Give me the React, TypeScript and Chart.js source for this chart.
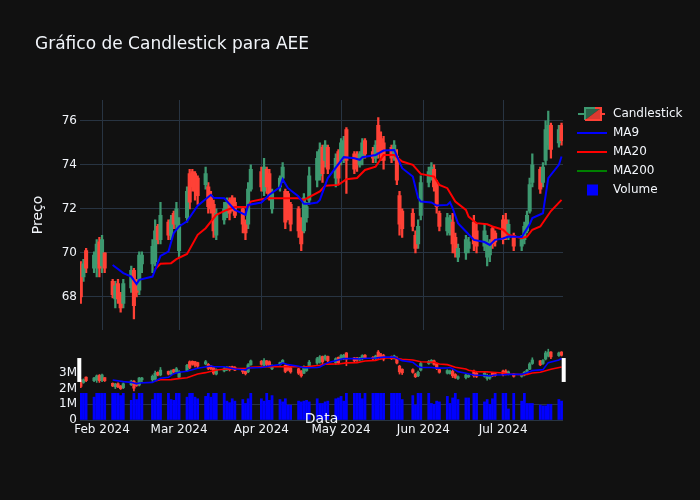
import { useEffect, useRef } from "react";
import { Chart, registerables } from "chart.js";

Chart.register(...registerables);

const TITLE = "Gráfico de Candlestick para AEE";
const seriesNames = ["Candlestick", "MA9", "MA20", "MA200", "Volume"];

// trading days
const dates = [
  "2024-01-24", "2024-01-25", "2024-01-26", "2024-01-29", "2024-01-30", "2024-01-31",
  "2024-02-01", "2024-02-02", "2024-02-05", "2024-02-06", "2024-02-07", "2024-02-08", "2024-02-09",
  "2024-02-12", "2024-02-13", "2024-02-14", "2024-02-15", "2024-02-16", "2024-02-20", "2024-02-21",
  "2024-02-22", "2024-02-23", "2024-02-26", "2024-02-27", "2024-02-28", "2024-02-29",
  "2024-03-01", "2024-03-04", "2024-03-05", "2024-03-06", "2024-03-07", "2024-03-08", "2024-03-11",
  "2024-03-12", "2024-03-13", "2024-03-14", "2024-03-15", "2024-03-18", "2024-03-19", "2024-03-20",
  "2024-03-21", "2024-03-22", "2024-03-25", "2024-03-26", "2024-03-27", "2024-03-28",
  "2024-04-01", "2024-04-02", "2024-04-03", "2024-04-04", "2024-04-05", "2024-04-08", "2024-04-09",
  "2024-04-10", "2024-04-11", "2024-04-12", "2024-04-15", "2024-04-16", "2024-04-17", "2024-04-18",
  "2024-04-19", "2024-04-22", "2024-04-23", "2024-04-24", "2024-04-25", "2024-04-26", "2024-04-29",
  "2024-04-30",
  "2024-05-01", "2024-05-02", "2024-05-03", "2024-05-06", "2024-05-07", "2024-05-08", "2024-05-09",
  "2024-05-10", "2024-05-13", "2024-05-14", "2024-05-15", "2024-05-16", "2024-05-17", "2024-05-20",
  "2024-05-21", "2024-05-22", "2024-05-23", "2024-05-24", "2024-05-28", "2024-05-29", "2024-05-30",
  "2024-05-31",
  "2024-06-03", "2024-06-04", "2024-06-05", "2024-06-06", "2024-06-07", "2024-06-10", "2024-06-11",
  "2024-06-12", "2024-06-13", "2024-06-14", "2024-06-17", "2024-06-18", "2024-06-20", "2024-06-21",
  "2024-06-24", "2024-06-25", "2024-06-26", "2024-06-27", "2024-06-28",
  "2024-07-01", "2024-07-02", "2024-07-03", "2024-07-05", "2024-07-08", "2024-07-09", "2024-07-10",
  "2024-07-11", "2024-07-12", "2024-07-15", "2024-07-16", "2024-07-17", "2024-07-18", "2024-07-19",
  "2024-07-22", "2024-07-23",
];

const opens = [
  69.3, 68.9, 70.1, 69.3, 69.5, 70.5,
  69.4, 70.0, 68.7, 67.9, 68.6, 68.1, 67.7,
  68.4, 69.2, 68.7, 68.3, 69.5, 69.5, 69.6,
  71.2, 70.6, 71.4, 70.8, 71.8, 71.3,
  70.1, 71.6, 73.6, 73.7, 73.6, 73.4, 73.1,
  73.0, 72.6, 72.2, 70.8, 71.5, 71.8, 72.4,
  72.5, 72.3, 72.0, 71.4, 71.3, 72.9,
  73.7, 72.8, 73.8, 73.6, 72.0, 73.0, 73.4,
  72.8, 72.7, 72.2, 72.0, 71.5, 71.0, 71.6,
  72.4, 73.3, 73.5, 74.8, 74.2, 74.8, 73.4,
  74.6,
  74.2, 74.4, 75.6, 74.5, 74.3, 74.0, 74.3,
  75.1, 74.6, 74.3, 75.8, 75.2, 75.0, 74.8,
  74.4, 74.4, 72.6, 71.9, 71.8, 70.8, 70.4,
  71.7,
  73.2, 73.5, 73.8, 73.1, 71.8, 71.0, 70.9,
  71.4, 70.7, 69.8, 70.0, 70.2, 71.4, 71.0,
  70.3, 69.8, 69.9, 71.1, 70.9,
  71.5, 71.5, 70.7, 70.8, 70.3, 70.6, 71.0,
  71.9, 73.2, 73.8, 73.2, 74.2, 74.9, 75.8,
  75.0, 75.8,
];

const highs = [
  69.6, 69.7, 70.2, 70.05, 70.6, 70.7,
  70.8, 70.0, 68.8, 68.7, 68.8, 68.2, 68.8,
  69.4, 69.3, 68.8, 70.05, 70.05, 70.6, 71.5,
  71.3, 72.3, 71.5, 71.7, 71.9, 72.3,
  71.6, 73.0, 73.8, 73.8, 73.7, 73.5, 73.9,
  73.2, 72.8, 72.4, 72.0, 72.3, 72.5, 72.5,
  72.6, 72.5, 72.1, 71.5, 73.2, 74.0,
  73.9, 74.3, 73.9, 73.8, 72.9, 73.5, 74.1,
  72.9, 72.8, 72.3, 72.1, 71.6, 72.7, 72.3,
  73.9, 74.6, 75.0, 74.9, 75.1, 74.9, 74.5,
  74.7,
  75.2, 75.3, 75.7, 74.6, 74.6, 74.6, 75.2,
  75.2, 74.8, 75.1, 76.15, 75.5, 75.3, 74.9,
  75.1, 74.7, 72.8, 72.0, 72.0, 71.0, 71.5,
  73.5,
  73.9, 74.1, 74.0, 73.3, 71.9, 71.8, 71.7,
  71.8, 70.9, 70.4, 70.8, 70.7, 71.7, 71.3,
  71.3, 70.8, 70.6, 71.2, 71.0,
  71.7, 71.8, 71.5, 70.9, 70.8, 71.4, 71.9,
  73.4, 74.5, 73.9, 74.1, 76.0, 76.45, 75.9,
  75.8, 75.9,
];

const lows = [
  67.7, 68.7, 69.1, 69.1, 68.9, 68.9,
  69.1, 69.1, 67.95, 67.5, 67.7, 67.3, 67.5,
  68.2, 67.0, 68.0, 68.1, 69.1, 69.1, 69.4,
  70.4, 70.4, 70.6, 70.6, 71.1, 71.1,
  69.8, 71.4, 72.0, 72.8, 72.4, 72.2, 72.9,
  71.8, 71.8, 70.7, 70.6, 71.3, 71.6, 71.5,
  71.9, 71.6, 70.9, 70.6, 71.1, 72.8,
  72.8, 72.6, 72.7, 72.4, 71.8, 72.8, 73.2,
  71.1, 71.5, 71.0, 70.7, 70.1, 70.9, 71.4,
  72.2, 73.0, 73.3, 73.2, 73.9, 73.6, 73.0,
  73.1,
  74.0, 74.1, 72.7, 73.6, 73.7, 73.9, 74.0,
  74.3, 74.1, 74.1, 74.3, 74.2, 73.8, 74.1,
  74.2, 73.1, 70.8, 70.7, 71.0, 70.0, 70.2,
  71.5,
  73.0, 73.3, 72.8, 71.8, 71.0, 70.8, 70.8,
  70.0, 69.8, 69.6, 69.7, 70.0, 70.1, 70.0,
  70.1, 69.4, 69.6, 70.2, 70.3,
  70.4, 70.6, 70.6, 70.1, 70.1, 70.4, 70.9,
  71.8, 73.0, 72.7, 73.0, 74.0, 74.7, 74.3,
  74.8, 74.9,
];

const closes = [
  68.0, 69.5, 69.3, 69.9, 70.4, 69.3,
  70.6, 69.3, 68.1, 68.5, 67.9, 67.5, 68.6,
  69.2, 67.6, 68.2, 69.9, 69.9, 70.3, 71.0,
  70.6, 71.7, 70.8, 71.5, 71.3, 72.0,
  71.3, 72.8, 72.3, 73.0, 72.8, 72.6, 73.6,
  72.1, 72.0, 71.0, 71.8, 72.0, 72.3, 71.8,
  72.0, 71.7, 71.3, 70.9, 72.9, 73.8,
  73.0, 73.9, 73.0, 72.6, 72.7, 73.4, 73.9,
  71.4, 71.8, 71.3, 71.0, 70.4, 72.5, 72.1,
  73.5, 74.3, 74.7, 73.6, 74.9, 73.8, 74.3,
  73.4,
  75.0, 75.1, 74.2, 73.8, 74.0, 74.5, 75.0,
  74.5, 74.3, 74.9, 74.6, 74.5, 74.2, 74.3,
  74.9, 73.3, 71.3, 71.1, 71.2, 70.2, 71.2,
  73.2,
  73.7, 73.9, 73.0, 72.1, 71.2, 71.6, 71.5,
  70.4, 70.0, 70.2, 70.6, 70.5, 70.4, 70.3,
  71.0, 70.5, 70.4, 70.4, 70.5,
  70.6, 70.9, 71.3, 70.3, 70.6, 71.2, 71.7,
  73.1, 74.0, 72.9, 73.9, 75.6, 75.8, 74.7,
  75.6, 75.1,
];

// volume, millions of shares
const volumes = [
  2.2, 1.9, 2.4, 1.45, 2.0, 2.6,
  1.9, 2.1, 2.3, 1.8, 2.0, 1.55, 2.2,
  1.25, 2.5, 1.3, 2.1, 3.1, 1.3, 1.9,
  2.2, 1.8, 2.0, 1.3, 1.25, 2.4,
  1.9, 1.45, 2.0, 2.2, 1.45, 1.35, 1.5,
  1.9, 1.45, 2.1, 3.0, 1.8, 1.2, 1.1,
  1.35, 1.2, 1.3, 1.05, 1.35, 1.9,
  1.35, 1.2, 1.8, 1.25, 1.55, 1.3, 1.15,
  1.35, 0.95, 0.95, 1.2, 1.15, 1.2, 1.25,
  1.15, 1.35, 1.05, 1.05, 1.15, 1.2, 1.35,
  1.4,
  1.5, 1.2, 2.0, 1.9, 2.1, 1.8, 1.35,
  1.9, 2.0, 1.8, 2.4, 2.2, 2.1, 1.9,
  1.8, 2.0, 2.5, 1.3, 1.55, 0.95, 2.0,
  3.2,
  1.9, 1.05, 1.0, 1.2, 1.15, 1.5, 1.05,
  1.4, 1.8, 1.3, 1.4, 1.4, 1.8, 2.6,
  1.15, 1.3, 1.0, 1.35, 2.2,
  1.9, 1.8, 0.7, 1.8, 1.2, 1.8, 1.05,
  1.05, 1.05, 0.95, 0.9, 0.9, 1.0, 1.0,
  1.3, 1.2,
];

const ma9Dates = [
  "2024-02-05", "2024-02-09", "2024-02-12", "2024-02-14", "2024-02-15", "2024-02-20", "2024-02-21",
  "2024-02-23", "2024-02-26", "2024-02-28", "2024-03-01", "2024-03-04", "2024-03-08", "2024-03-13",
  "2024-03-14", "2024-03-18", "2024-03-22", "2024-03-26", "2024-03-27", "2024-04-01", "2024-04-04",
  "2024-04-08", "2024-04-09", "2024-04-11", "2024-04-15", "2024-04-17", "2024-04-19", "2024-04-22",
  "2024-04-23", "2024-04-26", "2024-05-02", "2024-05-06", "2024-05-08", "2024-05-09", "2024-05-14",
  "2024-05-17", "2024-05-21", "2024-05-24", "2024-05-28", "2024-05-30", "2024-05-31", "2024-06-04",
  "2024-06-06", "2024-06-10", "2024-06-11", "2024-06-12", "2024-06-14", "2024-06-17", "2024-06-20",
  "2024-06-24", "2024-06-26", "2024-06-28", "2024-07-01", "2024-07-03", "2024-07-08", "2024-07-11",
  "2024-07-12", "2024-07-16", "2024-07-18", "2024-07-22", "2024-07-23",
];
const ma9Values = [
  69.45, 69.08, 68.92, 68.58, 68.77, 68.92, 69.23,
  69.86, 70.06, 70.9, 71.2, 71.43, 72.14, 72.64,
  72.5, 72.48, 71.95, 71.73, 72.18, 72.29, 72.64,
  72.99, 73.35, 72.94, 72.56, 72.23, 72.23, 72.29,
  72.41, 73.4, 74.35, 74.3, 74.23, 74.35, 74.45,
  74.65, 74.68, 73.85, 73.47, 72.49, 72.33, 72.29,
  72.15, 72.18, 72.3, 72.03, 71.35, 70.97, 70.59,
  70.49, 70.36, 70.59, 70.65, 70.74, 70.72, 71.3,
  71.58, 71.8, 73.4, 74.0, 74.38,
];

const ma20Dates = [
  "2024-02-21", "2024-02-23", "2024-02-27", "2024-02-29", "2024-03-04", "2024-03-08", "2024-03-11",
  "2024-03-15", "2024-03-19", "2024-03-22", "2024-03-27", "2024-03-28", "2024-04-03", "2024-04-09",
  "2024-04-15", "2024-04-17", "2024-04-23", "2024-04-25", "2024-04-30", "2024-05-03", "2024-05-07",
  "2024-05-10", "2024-05-14", "2024-05-17", "2024-05-21", "2024-05-24", "2024-05-28", "2024-05-31",
  "2024-06-05", "2024-06-07", "2024-06-10", "2024-06-13", "2024-06-17", "2024-06-18", "2024-06-21",
  "2024-06-25", "2024-06-27", "2024-07-01", "2024-07-03", "2024-07-08", "2024-07-10", "2024-07-12",
  "2024-07-15", "2024-07-19", "2024-07-23",
];
const ma20Values = [
  69.26, 69.5, 69.53, 69.71, 69.95, 70.82, 71.12,
  71.73, 71.95, 72.08, 72.08, 72.33, 72.48, 72.48,
  72.48, 72.41, 72.79, 73.05, 73.09, 73.35, 73.4,
  73.77, 73.92, 74.45, 74.45, 74.15, 74.0, 73.59,
  73.47, 73.09, 72.94, 72.33, 71.95, 71.65, 71.35,
  71.3, 71.2, 71.05, 70.82, 70.67, 70.74, 71.05,
  71.2, 71.9, 72.41,
];

// not enough history for a 200-day average
const ma200Dates: string[] = [];
const ma200Values: number[] = [];

const monthTickDates = ["2024-02-01", "2024-03-01", "2024-04-01", "2024-05-01", "2024-06-01", "2024-07-01"];
const monthTickLabels = ["Feb 2024", "Mar 2024", "Apr 2024", "May 2024", "Jun 2024", "Jul 2024"];
const priceTicks = [68, 70, 72, 74, 76];
const volumeTicks = [0, 1, 2, 3];

const BG = "#111111";
const TEXT = "#f2f5fa";
const GRID = "#283442";
const UP = "#3D9970";
const DOWN = "#FF4136";
const FONT = '"DejaVu Sans", Verdana, sans-serif';
const lineColors = ["#0000ff", "#ff0000", "#008000"];

const dayOf = (s: string) =>
  (Date.parse(s + "T00:00:00Z") - Date.parse("2024-02-01T00:00:00Z")) / 864e5;

const X_MIN = dayOf(dates[0]) - 0.3;
const X_MAX = dayOf(dates[dates.length - 1]) + 0.55;
const Y_MIN = 66.5;
const Y_MAX = 76.95;

function maDatasets(width: number) {
  const sets = [
    [ma9Dates, ma9Values],
    [ma20Dates, ma20Values],
    [ma200Dates, ma200Values],
  ] as [string[], number[]][];
  return sets.map(([ds, vs], k) => ({
    type: "line" as const,
    label: seriesNames[k + 1],
    data: ds.map((d, i) => ({ x: dayOf(d), y: vs[i] })),
    borderColor: lineColors[k],
    borderWidth: width,
    pointRadius: 0,
    tension: 0,
    order: 0,
  }));
}

function candleDatasets(wickW: number, bodyW: number) {
  const colors = closes.map((c, i) => (c >= opens[i] ? UP : DOWN));
  return [
    {
      type: "bar" as const,
      label: "body",
      data: dates.map((d, i) => ({
        x: dayOf(d),
        y: [Math.min(opens[i], closes[i]), Math.max(opens[i], closes[i])],
      })),
      backgroundColor: colors,
      barThickness: bodyW,
      minBarLength: 1,
      grouped: false,
      order: 1,
    },
    {
      type: "bar" as const,
      label: "wick",
      data: dates.map((d, i) => ({ x: dayOf(d), y: [lows[i], highs[i]] })),
      backgroundColor: colors,
      barThickness: wickW,
      grouped: false,
      order: 2,
    },
  ];
}

const tickFont = { family: FONT, size: 12 };

const decorPlugin = {
  id: "decor",
  afterDraw(chart: Chart) {
    const ctx = chart.ctx;
    ctx.save();
    ctx.fillStyle = TEXT;
    ctx.textBaseline = "middle";
    ctx.textAlign = "left";
    ctx.font = `17px ${FONT}`;
    ctx.fillText(TITLE, 35, 45);

    ctx.font = `12px ${FONT}`;
    seriesNames.forEach((name, i) => {
      const y = 114 + i * 19;
      if (i === 0) {
        // candlestick icon
        ctx.lineWidth = 2;
        ctx.strokeStyle = UP;
        ctx.beginPath();
        ctx.moveTo(578, y);
        ctx.lineTo(585, y);
        ctx.stroke();
        ctx.strokeStyle = DOWN;
        ctx.beginPath();
        ctx.moveTo(601, y);
        ctx.lineTo(605, y);
        ctx.stroke();
        ctx.fillStyle = "rgba(61,153,112,0.6)";
        ctx.beginPath();
        ctx.moveTo(585, y - 6);
        ctx.lineTo(601, y - 6);
        ctx.lineTo(585, y + 6);
        ctx.closePath();
        ctx.fill();
        ctx.fillStyle = "rgba(255,65,54,0.85)";
        ctx.beginPath();
        ctx.moveTo(601, y - 6);
        ctx.lineTo(601, y + 6);
        ctx.lineTo(585, y + 6);
        ctx.closePath();
        ctx.fill();
        ctx.strokeStyle = UP;
        ctx.beginPath();
        ctx.moveTo(585, y + 6);
        ctx.lineTo(585, y - 6);
        ctx.lineTo(595, y - 6);
        ctx.stroke();
        ctx.strokeStyle = DOWN;
        ctx.beginPath();
        ctx.moveTo(595, y - 6);
        ctx.lineTo(601, y - 6);
        ctx.lineTo(601, y + 6);
        ctx.lineTo(585, y + 6);
        ctx.stroke();
      } else if (name === "Volume") {
        ctx.fillStyle = "#0000ff";
        ctx.fillRect(587, y - 5.5, 11, 11);
      } else {
        ctx.strokeStyle = lineColors[i - 1];
        ctx.lineWidth = 2;
        ctx.beginPath();
        ctx.moveTo(577, y);
        ctx.lineTo(607, y);
        ctx.stroke();
      }
      ctx.fillStyle = TEXT;
      ctx.fillText(name, 613, y);
    });
    ctx.restore();
  },
};

const dataTitlePlugin = {
  id: "dataTitle",
  afterDraw(chart: Chart) {
    const ctx = chart.ctx;
    ctx.save();
    ctx.fillStyle = TEXT;
    ctx.font = `14px ${FONT}`;
    ctx.textAlign = "center";
    ctx.textBaseline = "middle";
    ctx.fillText("Data", (chart.chartArea.left + chart.chartArea.right) / 2, 79);
    ctx.restore();
  },
};

const sliderPlugin = {
  id: "sliderFrame",
  beforeDatasetsDraw(chart: Chart) {
    const { ctx, chartArea: a } = chart;
    ctx.save();
    ctx.fillStyle = BG;
    ctx.fillRect(a.left, a.top, a.right - a.left, a.bottom - a.top);
    ctx.restore();
  },
  afterDraw(chart: Chart) {
    const { ctx, chartArea: a } = chart;
    const h = a.bottom - a.top;
    ctx.save();
    ctx.fillStyle = "#ffffff";
    ctx.fillRect(a.left - 2.7, a.top + h * 0.24, 4, h * 0.52);
    ctx.fillRect(a.right - 1.3, a.top + h * 0.24, 4, h * 0.52);
    ctx.restore();
  },
};

const monthTicks = (scale: any) => {
  scale.ticks = monthTickDates.map((d) => ({ value: dayOf(d) }));
};

export default function App() {
  const mainRef = useRef<HTMLCanvasElement>(null);
  const volRef = useRef<HTMLCanvasElement>(null);
  const sliderRef = useRef<HTMLCanvasElement>(null);

  useEffect(() => {
    if (!mainRef.current || !volRef.current || !sliderRef.current) return;

    const main = new Chart(mainRef.current, {
      type: "bar",
      data: { datasets: [...maDatasets(2), ...candleDatasets(1.6, 3.4)] as any },
      options: {
        animation: false,
        responsive: true,
        maintainAspectRatio: false,
        layout: { padding: { left: 0, right: 137, top: 100, bottom: 10 } },
        plugins: { legend: { display: false }, tooltip: { enabled: false } },
        scales: {
          x: {
            type: "linear",
            min: X_MIN,
            max: X_MAX,
            offset: false,
            afterBuildTicks: monthTicks,
            afterFit: (s: any) => {
              s.height = 0;
            },
            grid: { color: GRID, drawTicks: false, offset: false },
            border: { display: false },
            ticks: { display: false },
          },
          y: {
            min: Y_MIN,
            max: Y_MAX,
            afterBuildTicks: (s: any) => {
              s.ticks = priceTicks.map((v) => ({ value: v }));
            },
            afterFit: (s: any) => {
              s.width = 80;
            },
            grid: { color: GRID, drawTicks: false },
            border: { display: false },
            ticks: { color: TEXT, font: tickFont, padding: 3 },
            title: {
              display: true,
              text: "Preço",
              color: TEXT,
              font: { family: FONT, size: 14 },
              padding: { top: 30, bottom: 0 },
            },
          },
        },
      },
      plugins: [decorPlugin],
    });

    const volume = new Chart(volRef.current, {
      type: "bar",
      data: {
        datasets: [
          {
            label: "Volume",
            data: dates.map((d, i) => ({ x: dayOf(d), y: volumes[i] })) as any,
            backgroundColor: "#0000ff",
            barThickness: 2.1,
            grouped: false,
          },
        ],
      },
      options: {
        animation: false,
        responsive: true,
        maintainAspectRatio: false,
        layout: { padding: { left: 0, right: 137, top: 17, bottom: 60 } },
        plugins: { legend: { display: false }, tooltip: { enabled: false } },
        scales: {
          x: {
            type: "linear",
            min: X_MIN,
            max: X_MAX,
            offset: false,
            afterBuildTicks: monthTicks,
            afterFit: (s: any) => {
              s.height = 20;
            },
            grid: { display: false, drawTicks: false, offset: false },
            border: { display: false },
            ticks: {
              color: TEXT,
              font: tickFont,
              padding: 3,
              autoSkip: false,
              maxRotation: 0,
              callback: (_v: any, i: number) => monthTickLabels[i],
            },
          },
          y: {
            min: 0,
            max: 4,
            afterBuildTicks: (s: any) => {
              s.ticks = volumeTicks.map((v) => ({ value: v }));
            },
            afterFit: (s: any) => {
              s.width = 80;
            },
            grid: { color: GRID, drawTicks: false },
            border: { display: false },
            ticks: {
              color: TEXT,
              font: tickFont,
              padding: 3,
              callback: (v: any) => (v === 0 ? "0" : `${v}M`),
            },
          },
        },
      },
      plugins: [dataTitlePlugin],
    });

    const slider = new Chart(sliderRef.current, {
      type: "bar",
      data: { datasets: [...maDatasets(1.6).slice(0, 2), ...candleDatasets(1, 2.6)] as any },
      options: {
        animation: false,
        responsive: true,
        maintainAspectRatio: false,
        layout: { padding: { left: 80, right: 137, top: 7, bottom: 7 } },
        plugins: { legend: { display: false }, tooltip: { enabled: false } },
        scales: {
          x: { type: "linear", min: X_MIN, max: X_MAX, offset: false, display: false },
          y: { min: Y_MIN, max: Y_MAX, display: false },
        },
      },
      plugins: [sliderPlugin],
    });

    return () => {
      main.destroy();
      volume.destroy();
      slider.destroy();
    };
  }, []);

  return (
    <div
      style={{
        position: "fixed",
        left: 0,
        top: 0,
        width: 700,
        height: 500,
        background: BG,
        overflow: "hidden",
      }}
    >
      <div style={{ position: "absolute", left: 0, top: 0, width: 700, height: 340 }}>
        <canvas ref={mainRef} />
      </div>
      <div style={{ position: "absolute", left: 0, top: 340, width: 700, height: 160 }}>
        <canvas ref={volRef} />
      </div>
      <div style={{ position: "absolute", left: 0, top: 340, width: 700, height: 60 }}>
        <canvas ref={sliderRef} />
      </div>
    </div>
  );
}
